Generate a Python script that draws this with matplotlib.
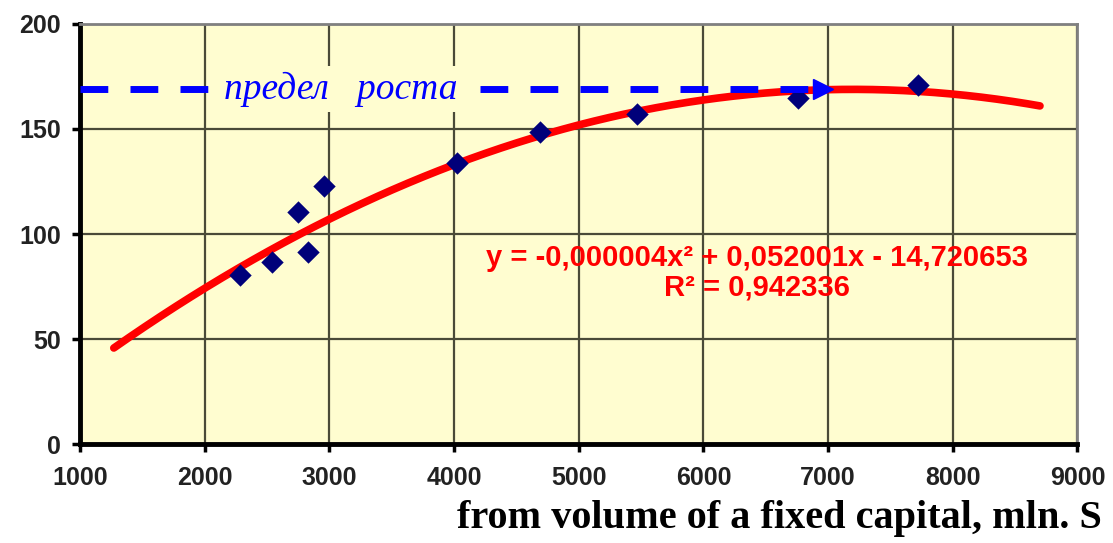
import numpy as np
import matplotlib.pyplot as plt

capital = [2280, 2540, 2750, 2830, 2960, 4020, 4690, 5470, 6760, 7720]
output = [80.5, 86.5, 110.5, 91.5, 123, 134, 148.5, 157, 164.5, 171]

# trend curve (quadratic)
trend_coef = [-0.0000035, 0.0504, -12.6]
trend_x = [1270, 8700]

limit_y = 169
limit_x = [1000, 6960]
limit_label = 'предел   роста'

eq_text = 'y = -0,000004x² + 0,052001x - 14,720653'
r2_text = 'R² = 0,942336'
xlabel = 'from volume of a fixed capital, mln. S'

fig = plt.figure(figsize=(11.13, 5.43), dpi=100)
ax = fig.add_axes([0.072, 0.182, 0.896, 0.774])
ax.set_facecolor('#FFFDD0')

xs = np.linspace(trend_x[0], trend_x[1], 300)
ax.plot(xs, np.polyval(trend_coef, xs), color='#FF0000', lw=5.5,
        solid_capstyle='round', zorder=3)

ax.scatter(capital, output, marker='D', s=130, color='#00007A', zorder=4,
           linewidths=0)

# limit-of-growth dashed arrow
ln, = ax.plot(limit_x, [limit_y, limit_y], color='#0000FF', lw=5, zorder=5)
ln.set_dashes((4.0, 3.2))
ax.plot([limit_x[1]], [limit_y], marker='>', ms=15, color='#0000FF',
        mec='#0000FF', zorder=5)
ax.text(3090, limit_y, limit_label, ha='center', va='center', fontsize=27,
        style='italic', color='#0000FF', family='Liberation Serif', zorder=6,
        bbox=dict(facecolor='#FFFDD0', edgecolor='none', pad=4))

ax.text(6430, 88.5, eq_text, ha='center', va='center', fontsize=21,
        fontweight='bold', color='#FF0000', family='Liberation Sans', zorder=6)
ax.text(6430, 74.5, r2_text, ha='center', va='center', fontsize=21,
        fontweight='bold', color='#FF0000', family='Liberation Sans', zorder=6)

ax.set_xlim(1000, 9000)
ax.set_ylim(0, 200)
ax.set_xticks(range(1000, 9001, 1000))
ax.set_yticks(range(0, 201, 50))
ax.grid(True, color='#4A4A38', lw=1.6, zorder=1)
ax.set_axisbelow(True)

for s in ['left', 'bottom']:
    ax.spines[s].set_linewidth(3.5)
    ax.spines[s].set_color('black')
for s in ['top', 'right']:
    ax.spines[s].set_linewidth(2)
    ax.spines[s].set_color('#808080')

ax.tick_params(axis='both', length=6, width=2.5, color='black', direction='out')
ax.tick_params(axis='x', pad=10)
ax.tick_params(axis='y', pad=8)
for lab in ax.get_xticklabels() + ax.get_yticklabels():
    lab.set_fontfamily('Liberation Sans')
    lab.set_fontweight('bold')
    lab.set_fontsize(18)
    lab.set_color('#222222')

fig.text(0.99, 0.045, xlabel, ha='right', va='center', fontsize=29,
         fontweight='bold', family='Liberation Serif', color='black')

fig.savefig('out.png', dpi=100, facecolor='white')
